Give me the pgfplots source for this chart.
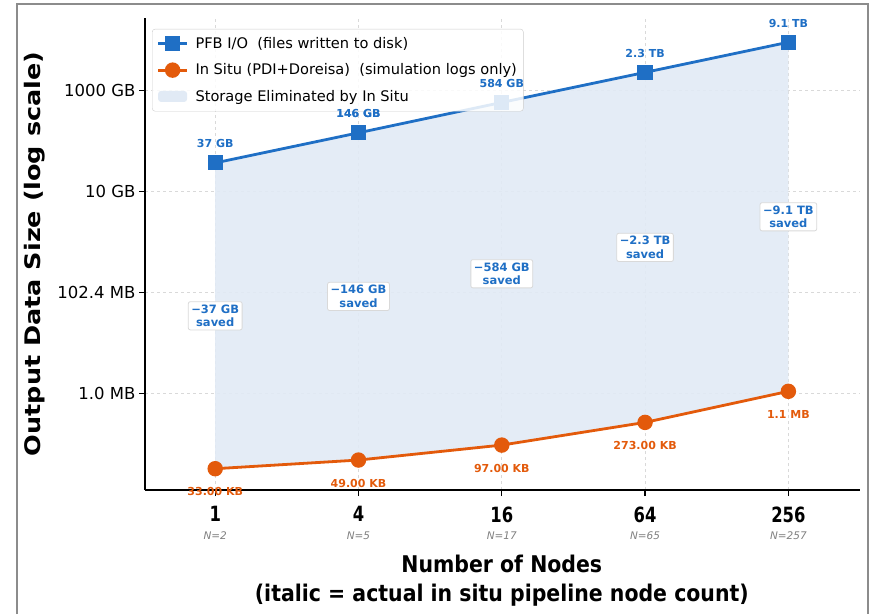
\documentclass[border=0pt]{standalone}
\usepackage{fontspec}
\setmainfont{DejaVu Sans}
\usepackage{pgfplots}
\pgfplotsset{compat=1.18}
\usepgfplotslibrary{fillbetween}
\definecolor{pfb}{HTML}{1F6FC5}
\definecolor{ins}{HTML}{E35A0B}
\definecolor{fillc}{HTML}{E1EAF5}
\definecolor{frame}{HTML}{8C8C8C}
\newcommand{\fs}[1]{\fontsize{#1}{#1}\selectfont}
\newcommand{\xt}[1]{\scalebox{0.78}[1]{\fs{21}\bfseries #1}}
\pgfplotstableread{
x y label
0 37000 {37 GB}
1 146000 {146 GB}
2 584000 {584 GB}
3 2300000 {2.3 TB}
4 9100000 {9.1 TB}
}\pfbdata
\pgfplotstableread{
x y label
0 0.03223 {33.00 KB}
1 0.04785 {49.00 KB}
2 0.09473 {97.00 KB}
3 0.2666 {273.00 KB}
4 1.1 {1.1 MB}
}\insdata
\begin{document}
\begin{tikzpicture}[x=1pt,y=1pt]
\path (0,0) rectangle (870,-614);
\draw[frame, line width=2pt] (17,-614) -- (17,-4) -- (868,-4) -- (868,-614);
\begin{axis}[
  at={(145pt,-490pt)}, anchor=south west,
  scale only axis, width=715pt, height=472pt,
  ymode=log,
  xmin=-0.49, xmax=4.5, ymin=0.0122, ymax=2.75e7,
  axis x line*=bottom, axis y line*=left,
  axis line style={line width=2.6pt, black},
  tick align=outside, major tick length=6pt,
  tick style={black, line width=1.2pt},
  yminorticks=false, xminorticks=false,
  ytick={1,100,10000,1000000},
  yticklabels={1.0 MB, 102.4 MB, 10 GB, 1000 GB},
  yticklabel style={font=\fs{16.5}},
  xtick={0,1,2,3,4},
  xticklabels={\xt{1},\xt{4},\xt{16},\xt{64},\xt{256}},
  xticklabel style={yshift=-7pt},
  grid=major,
  major grid style={dashed, black!15, line width=0.8pt},
  legend style={at={(axis description cs:0.0098,0.977)}, anchor=north west,
     font=\fs{14.6}, draw=black!20, rounded corners=3pt, fill=white,
     fill opacity=0.85, text opacity=1, row sep=9.7pt, inner xsep=4.5pt, inner ysep=6.5pt},
  legend cell align=left,
  legend image code/.code={\draw[fill opacity=1, draw opacity=1, mark repeat=2,mark phase=2] plot coordinates {(0pt,0pt) (14.5pt,0pt) (29pt,0pt)};\path (34pt,0pt);},
  clip=false,
]
\addplot[name path=A, pfb, line width=2.8pt, mark=square*, mark size=6.2pt,
  nodes near coords, point meta=explicit symbolic,
  nodes near coords style={font=\fs{11}\bfseries, text=pfb, anchor=base, inner sep=0pt, yshift=15pt}]
  table[x=x, y=y, meta=label] {\pfbdata};
\addlegendentry{PFB I/O\ \ (files written to disk)}
\addplot[name path=B, ins, line width=2.8pt, mark=*, mark size=6.3pt,
  nodes near coords, point meta=explicit symbolic,
  nodes near coords style={font=\fs{11}\bfseries, text=ins, anchor=base, inner sep=0pt, yshift=-27pt}]
  table[x=x, y=y, meta=label] {\insdata};
\addlegendentry{In Situ (PDI+Doreisa)\ \ (simulation logs only)}
\addplot[fillc, fill opacity=0.9, draw=none,
  legend image code/.code={\fill[fillc, fill opacity=1] (0pt,-5.5pt) rectangle (29pt,5.5pt);\path (34pt,0pt);}]
  fill between[of=A and B];
\addlegendentry{Storage Eliminated by In Situ}
\tikzset{savedbox/.style={draw=black!15, fill=white, rounded corners=2pt, align=center,
  font=\fontsize{11.5}{13.5}\selectfont\bfseries, text=pfb, inner sep=3pt, line width=0.8pt}}
\node[savedbox] at (axis cs:0,34.53) {−37 GB\\saved};
\node[savedbox] at (axis cs:1,83.6) {−146 GB\\saved};
\node[savedbox] at (axis cs:2,235.2) {−584 GB\\saved};
\node[savedbox] at (axis cs:3,783) {−2.3 TB\\saved};
\node[savedbox] at (axis cs:4,3164) {−9.1 TB\\saved};
\coordinate (p146) at (axis cs:1,146000);
\coordinate (p584) at (axis cs:2,584000);
\tikzset{nlab/.style={font=\fs{10.5}\itshape, text=gray, anchor=center}}
\node[nlab] at ([yshift=-46pt]axis cs:0,0.0122) {N=2};
\node[nlab] at ([yshift=-46pt]axis cs:1,0.0122) {N=5};
\node[nlab] at ([yshift=-46pt]axis cs:2,0.0122) {N=17};
\node[nlab] at ([yshift=-46pt]axis cs:3,0.0122) {N=65};
\node[nlab] at ([yshift=-46pt]axis cs:4,0.0122) {N=257};
\node[font=\fontsize{23}{29}\selectfont\bfseries, align=center, xscale=0.89, anchor=center]
  at ([yshift=-91pt]rel axis cs:0.499,0) {Number of Nodes\\(italic = actual in situ pipeline node count)};
\node[font=\fs{25.5}\bfseries, rotate=90, anchor=center]
  at ([xshift=-110pt]rel axis cs:0,0.5) {\scalebox{1}[0.84]{Output Data Size (log scale)}};
\end{axis}
\node[font=\fs{11}\bfseries, text=pfb, anchor=base, inner sep=0pt] at ([yshift=15pt]p146) {146 GB};
\node[font=\fs{11}\bfseries, text=pfb, anchor=base, inner sep=0pt] at ([yshift=15pt]p584) {584 GB};
\end{tikzpicture}
\end{document}
